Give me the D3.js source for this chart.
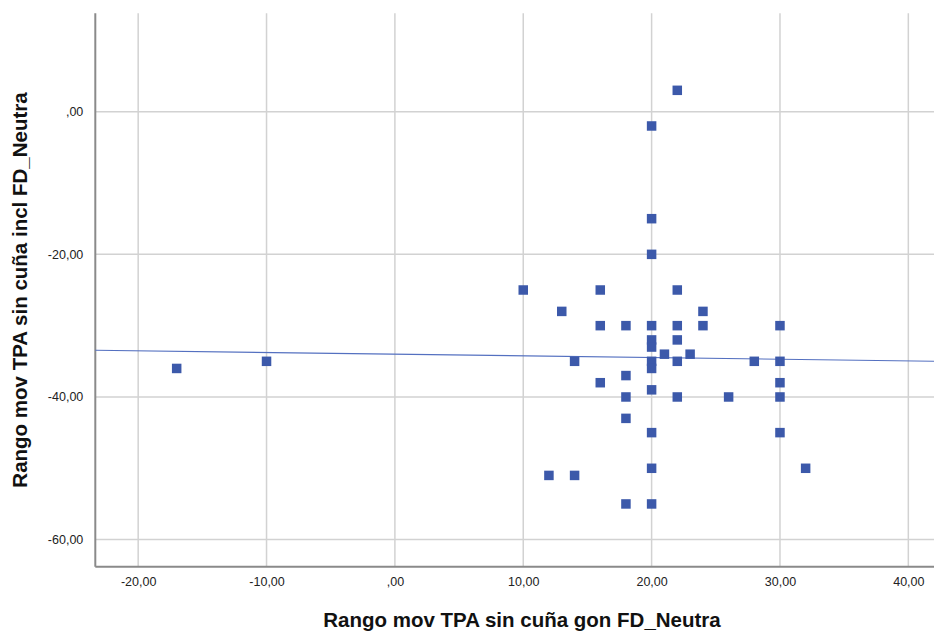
<!DOCTYPE html>
<html>
<head>
<meta charset="utf-8">
<script src="https://cdn.jsdelivr.net/npm/d3@7"></script>
<style>
  body { margin: 0; background: #fff; }
  svg { display: block; font-family: "Liberation Sans", Arial, sans-serif; }
</style>
</head>
<body>
<div id="chart-area"></div>
<script>
// data
var xVals = [22, 20, 20, 20, 10, 16, 22, 13, 24, 16, 18, 20, 22, 24, 30,
             20, 20, 22, 21, 23, 14, 20, 20, 22, 28, 30, -17, -10, 16, 18,
             30, 20, 18, 22, 26, 30, 18, 20, 30, 20, 32, 12, 14, 18, 20]
var yVals = [3, -2, -15, -20, -25, -25, -25, -28, -28, -30, -30, -30, -30, -30, -30,
             -32, -33, -32, -34, -34, -35, -35, -36, -35, -35, -35, -36, -35, -38, -37,
             -38, -39, -40, -40, -40, -40, -43, -45, -45, -50, -50, -51, -51, -55, -55]
var xTicks = [-20, -10, 0, 10, 20, 30, 40]
var yTicks = [0, -20, -40, -60]
// fit line (intercept, slope)
var fitA = -34.0
var fitB = -0.0236

var cw = 934
var ch = 633
var m = {l: 95.3, t: 13.3, r: 0, b: 633 - 566.7}
var w = cw - m.l - m.r
var h = ch - m.t - m.b

var svg = d3.select("#chart-area").append("svg")
    .attr("width", cw)
    .attr("height", ch)

var g = svg.append("g").attr("transform", "translate(" + m.l + ", " + m.t + ")")

var x = d3.scaleLinear()
    .domain([-23.34, 42.0])
    .range([0, w])

var y = d3.scaleLinear()
    .domain([-63.8, 13.8])
    .range([h, 0])

// SPSS style labels: ",00" for zero, comma decimal, plain hyphen
var fmt = d => d === 0 ? ",00" : (d < 0 ? "-" : "") + Math.abs(d).toFixed(2).replace(".", ",")

// grid lines
g.append("g").selectAll("line")
    .data(xTicks)
    .enter().append("line")
    .attr("x1", d => x(d)).attr("x2", d => x(d))
    .attr("y1", 0).attr("y2", h)
    .attr("stroke", "#d2d2d2")
    .attr("stroke-width", 1.5)

g.append("g").selectAll("line")
    .data(yTicks)
    .enter().append("line")
    .attr("x1", 0).attr("x2", w)
    .attr("y1", d => y(d)).attr("y2", d => y(d))
    .attr("stroke", "#d2d2d2")
    .attr("stroke-width", 1.5)

// axes
var bottomAxis = d3.axisBottom(x)
    .tickValues(xTicks)
    .tickSize(0)
    .tickPadding(10)
    .tickFormat(fmt)

var leftAxis = d3.axisLeft(y)
    .tickValues(yTicks)
    .tickSize(0)
    .tickPadding(12)
    .tickFormat(fmt)

var xAxisGroup = g.append("g")
    .attr("transform", "translate(0, " + h + ")")
    .call(bottomAxis)

var yAxisGroup = g.append("g")
    .call(leftAxis)

xAxisGroup.select(".domain").remove()
yAxisGroup.select(".domain").remove()
svg.selectAll(".tick text").attr("font-size", "12.5px").attr("fill", "#222")
    .attr("font-family", "'Liberation Sans', Arial, sans-serif")

g.append("line")
    .attr("x1", 0).attr("x2", w)
    .attr("y1", h).attr("y2", h)
    .attr("stroke", "#8a8a8a")
    .attr("stroke-width", 2)

g.append("line")
    .attr("x1", 0).attr("x2", 0)
    .attr("y1", 0).attr("y2", h)
    .attr("stroke", "#8a8a8a")
    .attr("stroke-width", 2)

// fit line
g.append("line")
    .attr("x1", x(x.domain()[0]))
    .attr("y1", y(fitA + fitB * x.domain()[0]))
    .attr("x2", x(x.domain()[1]))
    .attr("y2", y(fitA + fitB * x.domain()[1]))
    .attr("stroke", "#5470c0")
    .attr("stroke-width", 1.2)

// points
var pts = xVals.map((d, i) => ({x: d, y: yVals[i]}))
var s = 9.5
g.selectAll("rect.pt")
    .data(pts)
    .enter().append("rect")
    .attr("class", "pt")
    .attr("x", d => x(d.x) - s / 2)
    .attr("y", d => y(d.y) - s / 2)
    .attr("width", s)
    .attr("height", s)
    .attr("fill", "#3c59aa")

// axis titles
svg.append("text")
    .attr("x", 522)
    .attr("y", 627)
    .attr("text-anchor", "middle")
    .attr("font-size", "20.5px")
    .attr("font-weight", "bold")
    .attr("fill", "#111")
    .text("Rango mov TPA sin cuña gon FD_Neutra")

svg.append("text")
    .attr("transform", "translate(27, 290) rotate(-90)")
    .attr("text-anchor", "middle")
    .attr("font-size", "20.5px")
    .attr("font-weight", "bold")
    .attr("fill", "#111")
    .text("Rango mov TPA sin cuña incl FD_Neutra")
</script>
</body>
</html>
